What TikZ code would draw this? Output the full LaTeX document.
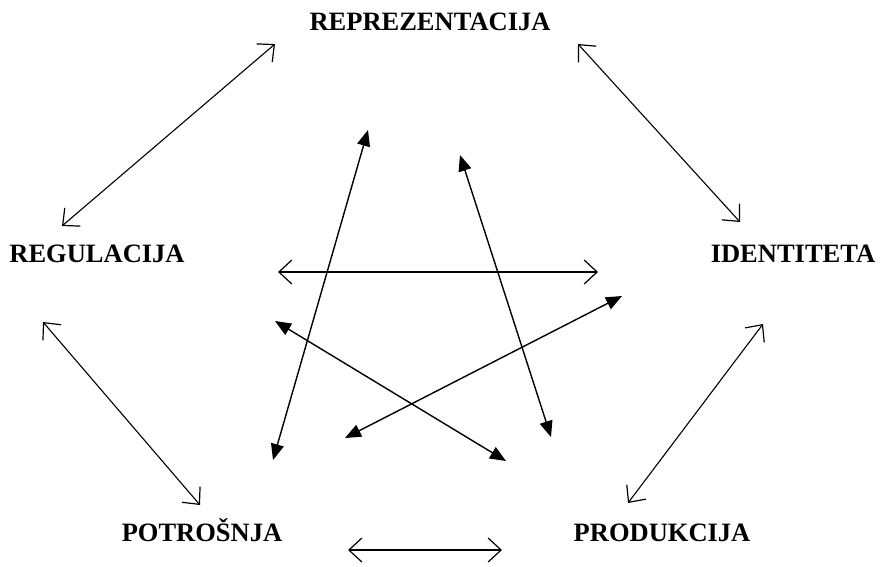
\documentclass[tikz,border=0pt]{standalone}
\usepackage{fontspec}
\setmainfont{Liberation Serif}
\usetikzlibrary{arrows.meta}
\begin{document}
\begin{tikzpicture}[x=1pt,y=-1pt,
  lbl/.style={font=\fontsize{26.5}{30}\selectfont\bfseries, inner sep=0pt, anchor=base},
  openarr/.style={line width=1.1pt, {Straight Barb[length=13pt,width=24pt,line width=1.2pt]}-{Straight Barb[length=13pt,width=24pt,line width=1.2pt]}},
  fillarr/.style={line width=1.4pt, {Triangle[length=16pt,width=13pt]}-{Triangle[length=16pt,width=13pt]}}]
\useasboundingbox (0,0) rectangle (882,566);
\node[lbl] (rep) at (430,30) {REPREZENTACIJA};
\node[lbl] (reg) at (97,262) {REGULACIJA};
\node[lbl] (ide) at (793,262) {IDENTITETA};
\node[lbl] (pot) at (202,541) {POTROŠNJA};
\node[lbl] (pro) at (662,541) {PRODUKCIJA};
% outer endpoints
\coordinate (a1) at (275,44); \coordinate (a2) at (62,226);
\coordinate (b1) at (578,44); \coordinate (b2) at (740,222);
\coordinate (c1) at (43,322); \coordinate (c2) at (200,505);
\coordinate (d1) at (763,324); \coordinate (d2) at (628,503);
\coordinate (e1) at (348,550); \coordinate (e2) at (502,550);
% inner endpoints
\coordinate (f1) at (278,272); \coordinate (f2) at (598,272);
\coordinate (g1) at (368,130); \coordinate (g2) at (273,460);
\coordinate (h1) at (460,155); \coordinate (h2) at (551,437);
\coordinate (i1) at (622,296); \coordinate (i2) at (345,438);
\coordinate (j1) at (275,321); \coordinate (j2) at (506,461);
\draw[openarr] (a1) -- (a2);
\draw[openarr] (b1) -- (b2);
\draw[openarr] (c1) -- (c2);
\draw[openarr] (d1) -- (d2);
\draw[openarr] (e1) -- (e2);
\draw[openarr] (f1) -- (f2);
\draw[fillarr] (g1) -- (g2);
\draw[fillarr] (h1) -- (h2);
\draw[fillarr] (i1) -- (i2);
\draw[fillarr] (j1) -- (j2);
\end{tikzpicture}
\end{document}
